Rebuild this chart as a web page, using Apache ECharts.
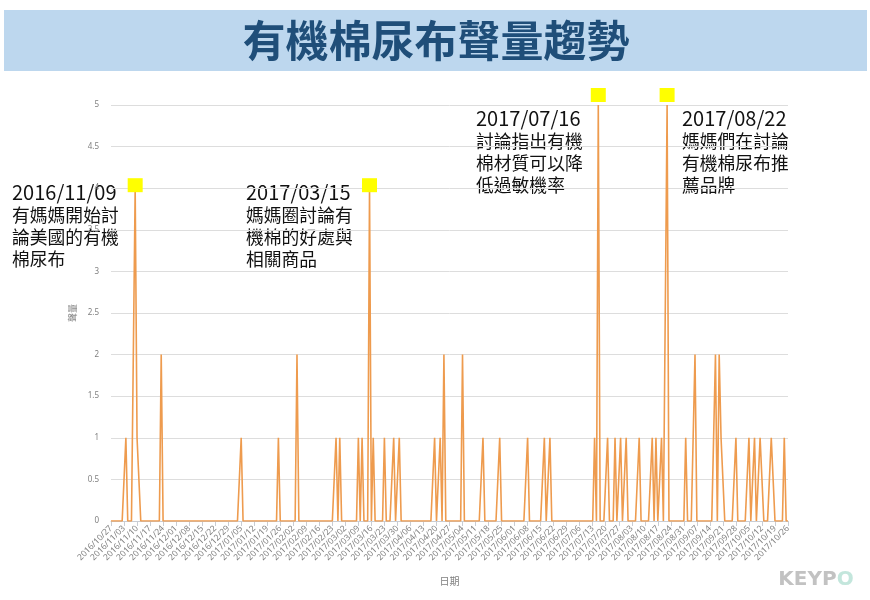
<!DOCTYPE html>
<html>
<head>
<meta charset="utf-8">
<script src="https://cdn.jsdelivr.net/npm/echarts@6/dist/echarts.min.js"></script>
<style>
html,body{margin:0;padding:0;background:#fff;}
#main{width:870px;height:600px;}
</style>
</head>
<body>
<div id="main"></div>
<script>
// ---- data ----
const titleText = '有機棉尿布聲量趨勢';
const startDate = '2016/10/27';
const dayCount = 365;
const spikeDates = [
  '2016/11/04','2016/11/09','2016/11/10','2016/11/11','2016/11/23',
  '2017/01/05','2017/01/25','2017/02/04','2017/02/25','2017/02/27',
  '2017/03/09','2017/03/11','2017/03/15','2017/03/17','2017/03/23',
  '2017/03/28','2017/03/31','2017/04/19','2017/04/22','2017/04/24',
  '2017/05/04','2017/05/15','2017/05/24','2017/06/08','2017/06/17',
  '2017/06/20','2017/07/14','2017/07/16','2017/07/21','2017/07/25',
  '2017/07/28','2017/07/31','2017/08/07','2017/08/14','2017/08/16',
  '2017/08/19','2017/08/22','2017/09/01','2017/09/06','2017/09/17',
  '2017/09/19','2017/09/20','2017/09/21','2017/09/28','2017/10/05',
  '2017/10/08','2017/10/11','2017/10/12','2017/10/17','2017/10/18',
  '2017/10/24'
];
const spikeValues = [
  1,4,1,1,2,
  1,1,2,1,1,
  1,1,4,1,1,
  1,1,1,1,2,
  2,1,1,1,1,
  1,1,5,1,1,
  1,1,1,1,1,
  1,5,1,2,2,
  2,1,1,1,1,
  1,1,1,1,1,
  1
];
const highlightDates = ['2016/11/09','2017/03/15','2017/07/16','2017/08/22'];
const annotations = [
  {date:'2016/11/09', lines:['有媽媽開始討','論美國的有機','棉尿布']},
  {date:'2017/03/15', lines:['媽媽圈討論有','機棉的好處與','相關商品']},
  {date:'2017/07/16', lines:['討論指出有機','棉材質可以降','低過敏機率']},
  {date:'2017/08/22', lines:['媽媽們在討論','有機棉尿布推','薦品牌']}
];
const yAxisName = '聲量';
const xAxisName = '日期';

// ---- build category axis & series ----
function fmt(d){
  const m = String(d.getUTCMonth()+1).padStart(2,'0');
  const dd = String(d.getUTCDate()).padStart(2,'0');
  return d.getUTCFullYear()+'/'+m+'/'+dd;
}
const p = startDate.split('/').map(Number);
const categories = [];
for(let i=0;i<dayCount;i++){
  categories.push(fmt(new Date(Date.UTC(p[0],p[1]-1,p[2]+i))));
}
const valueByDate = {};
spikeDates.forEach((d,i)=>{ valueByDate[d]=spikeValues[i]; });
const seriesData = categories.map(d => valueByDate[d] || 0);

// ---- layout (pixels) ----
const annoPos = [
  {x:12, y:192}, {x:246, y:192}, {x:476, y:118}, {x:682, y:118}
];
const graphics = [
  {type:'rect', shape:{x:4,y:10,width:863,height:61}, style:{fill:'#BDD7EE'}, z:0},
  {type:'text', x:436, y:41, style:{text:titleText, fill:'#1F4E79',
    font:'bold 43px "Noto Sans CJK TC"', textAlign:'center', textVerticalAlign:'middle'}},
  {type:'text', x:816, y:580, style:{
    text:'{a|KEYP}{b|O}', textAlign:'center', textVerticalAlign:'middle',
    rich:{
      a:{fill:'#C2C2C2', font:'bold 20px "DejaVu Sans"'},
      b:{fill:'#C3E6DC', font:'bold 20px "DejaVu Sans"'}
    }}}
];
annotations.forEach((a,i)=>{
  const pos = annoPos[i];
  graphics.push({type:'text', x:pos.x, y:pos.y, style:{text:a.date, fill:'#111',
    font:'20px "Noto Sans CJK TC"', textAlign:'left', textVerticalAlign:'middle'}});
  a.lines.forEach((ln,j)=>{
    graphics.push({type:'text', x:pos.x, y:pos.y+23+j*22, style:{text:ln, fill:'#111',
      font:'17.8px "Noto Sans CJK TC"', textAlign:'left', textVerticalAlign:'middle'}});
  });
});

const markData = highlightDates.map(d => ({
  coord:[d, valueByDate[d]],
  symbolOffset:[0, valueByDate[d] >= 5 ? -10 : -3]
}));

const chart = echarts.init(document.getElementById('main'));
chart.setOption({
  backgroundColor:'#fff',
  animation:false,
  grid:{left:111, right:82, top:105, bottom:79},
  xAxis:{
    type:'category', data:categories, boundaryGap:false,
    name:xAxisName, nameLocation:'middle', nameGap:55,
    nameTextStyle:{color:'#7f7f7f', fontSize:10, fontFamily:'Noto Sans CJK TC'},
    axisLine:{lineStyle:{color:'#C9CDD4'}},
    axisTick:{show:true, interval:6, length:5, lineStyle:{color:'#C9CDD4'}},
    axisLabel:{interval:6, rotate:45, color:'#808080', fontSize:8.5, margin:6,
      fontFamily:'Noto Sans'}
  },
  yAxis:{
    type:'value', min:0, max:5, interval:0.5,
    name:yAxisName, nameLocation:'middle', nameGap:30, nameRotate:90,
    nameTextStyle:{color:'#7f7f7f', fontSize:9, fontFamily:'Noto Sans CJK TC'},
    axisLine:{show:false}, axisTick:{show:false},
    axisLabel:{color:'#7f7f7f', fontSize:8, margin:12, fontFamily:'Noto Sans'},
    splitLine:{lineStyle:{color:'#DDDDDD', width:1}}
  },
  series:[{
    type:'line', data:seriesData, showSymbol:false, symbol:'none',
    lineStyle:{color:'#EE9B4E', width:1.6},
    itemStyle:{color:'#EE9B4E'},
    markPoint:{
      symbol:'rect', symbolSize:[15,14],
      itemStyle:{color:'#FFFF00'},
      label:{show:false},
      data:markData
    }
  }],
  graphic:graphics
});
</script>
</body>
</html>
